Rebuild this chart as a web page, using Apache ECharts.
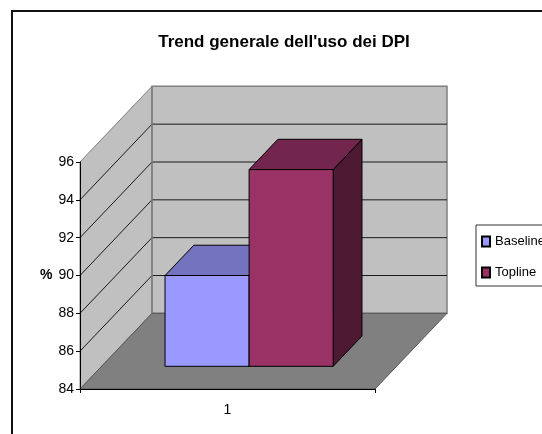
<!DOCTYPE html>
<html>
<head>
<meta charset="utf-8">
<style>html,body{margin:0;padding:0;background:#fff}#chart{width:542px;height:434px}</style>
<script src="https://cdn.jsdelivr.net/npm/echarts@6/dist/echarts.min.js"></script>
</head>
<body>
<div id="chart"></div>
<script>
const titleText = "Trend generale dell'uso dei DPI";
const categories = ['1'];
const seriesNames = ['Baseline', 'Topline'];
const baselineValues = [88.8];
const toplineValues = [94.4];
const yMin = 84, yMax = 96, yStep = 2;
const yTicks = [84, 86, 88, 90, 92, 94, 96];

// Pseudo-3D box geometry: the back plane sits to the right by a fixed
// pixel shift and higher by a number of axis units.
const depthShiftX = 72;
const depthUnits = 4;
const barGap = 0.215, barDepthFront = 0.3, barDepthBack = 0.7;
const fontFamily = '"Liberation Sans",Arial,sans-serif';

function projector(params, api) {
  const cs = params.coordSys;
  const unitDepth = api.coord([0, yMin])[1] - api.coord([0, yMin + depthUnits])[1];
  return function (xFrac, value, depth) {
    return [cs.x + xFrac * cs.width + depth * depthShiftX,
            api.coord([0, value])[1] - depth * unitDepth];
  };
}

function poly(points, fill, stroke, lineWidth) {
  return { type: 'polygon', shape: { points: points }, silent: true,
           style: { fill: fill, stroke: stroke, lineWidth: lineWidth } };
}

function renderWalls(params, api) {
  const p = projector(params, api);
  const children = [
    poly([p(0, yMin, 0), p(0, yMax, 0), p(0, yMax, 1), p(0, yMin, 1)], '#c0c0c0', '#808080', 1),
    poly([p(0, yMin, 1), p(0, yMax, 1), p(1, yMax, 1), p(1, yMin, 1)], '#c0c0c0', '#808080', 1.5),
    poly([p(0, yMin, 0), p(1, yMin, 0), p(1, yMin, 1), p(0, yMin, 1)], '#808080', '#555555', 1)
  ];
  yTicks.filter(t => t > yMin && t < yMax).forEach(t => {
    const a = p(0, t, 0), b = p(0, t, 1), c = p(1, t, 1);
    children.push({ type: 'polyline', shape: { points: [a, b, c] }, silent: true,
                    style: { fill: null, stroke: '#1a1a1a', lineWidth: 1 } });
  });
  const backBottomLeft = p(0, yMin, 1), backTopLeft = p(0, yMax, 1);
  children.push({ type: 'line', silent: true,
    shape: { x1: backBottomLeft[0], y1: backBottomLeft[1], x2: backTopLeft[0], y2: backTopLeft[1] },
    style: { stroke: '#808080', lineWidth: 1.5 } });
  return { type: 'group', children: children };
}

function cubeRenderer(slot, front, top, side) {
  return function (params, api) {
    const p = projector(params, api);
    const v = api.value(1);
    const w = (1 - 2 * barGap) / 2;
    const x0 = barGap + slot * w, x1 = x0 + w;
    return { type: 'group', children: [
      poly([p(x1, yMin, barDepthFront), p(x1, v, barDepthFront), p(x1, v, barDepthBack), p(x1, yMin, barDepthBack)], side, '#000', 1),
      poly([p(x0, v, barDepthFront), p(x1, v, barDepthFront), p(x1, v, barDepthBack), p(x0, v, barDepthBack)], top, '#000', 1),
      poly([p(x0, yMin, barDepthFront), p(x1, yMin, barDepthFront), p(x1, v, barDepthFront), p(x0, v, barDepthFront)], front, '#000', 1)
    ] };
  };
}

const chart = echarts.init(document.getElementById('chart'), null, { renderer: 'canvas' });
chart.setOption({
  animation: false,
  backgroundColor: '#ffffff',
  graphic: [{
    type: 'rect', silent: true, z: 0,
    shape: { x: 12, y: 11, width: 640, height: 540 },
    style: { fill: null, stroke: '#111111', lineWidth: 2 }
  }],
  title: {
    text: titleText, left: 279, top: 29, textAlign: 'center',
    textStyle: { fontFamily: fontFamily, fontWeight: 'bold', fontSize: 17, color: '#000' }
  },
  legend: {
    data: seriesNames, orient: 'vertical', left: 476, top: 225,
    padding: [10, 8, 7, 5], itemWidth: 8, itemHeight: 10, itemGap: 18,
    borderColor: '#333', borderWidth: 1, icon: 'rect', selectedMode: false,
    textStyle: { fontFamily: fontFamily, fontSize: 13, color: '#000' }
  },
  grid: { left: 80, right: 167, top: 162, bottom: 45 },
  xAxis: {
    type: 'category', data: categories, z: 10,
    axisLine: { lineStyle: { color: '#000' } },
    axisTick: { show: true, length: 4, lineStyle: { color: '#000' } },
    axisLabel: { margin: 14, fontFamily: fontFamily, fontSize: 14, color: '#000' }
  },
  yAxis: {
    type: 'value', min: yMin, max: yMax, interval: yStep, z: 10,
    name: '%', nameLocation: 'middle', nameRotate: 0, nameGap: 26,
    nameTextStyle: { fontFamily: fontFamily, fontWeight: 'bold', fontSize: 14, color: '#000' },
    axisLine: { show: true, lineStyle: { color: '#000' } },
    axisTick: { show: true, length: 4, lineStyle: { color: '#000' } },
    axisLabel: { margin: 6, fontFamily: fontFamily, fontSize: 14, color: '#000' },
    splitLine: { show: false }
  },
  series: [
    { type: 'custom', name: 'walls', silent: true, z: 1, renderItem: renderWalls, data: [[0, yMin]] },
    { type: 'custom', name: seriesNames[0], silent: true, z: 2,
      itemStyle: { color: '#9999ff', borderColor: '#000', borderWidth: 1 },
      renderItem: cubeRenderer(0, '#9999ff', '#7373bf', '#4d4d80'),
      data: baselineValues.map((v, i) => [i, v]) },
    { type: 'custom', name: seriesNames[1], silent: true, z: 3,
      itemStyle: { color: '#993366', borderColor: '#000', borderWidth: 1 },
      renderItem: cubeRenderer(1, '#993366', '#73264d', '#4d1933'),
      data: toplineValues.map((v, i) => [i, v]) }
  ]
});
</script>
</body>
</html>
